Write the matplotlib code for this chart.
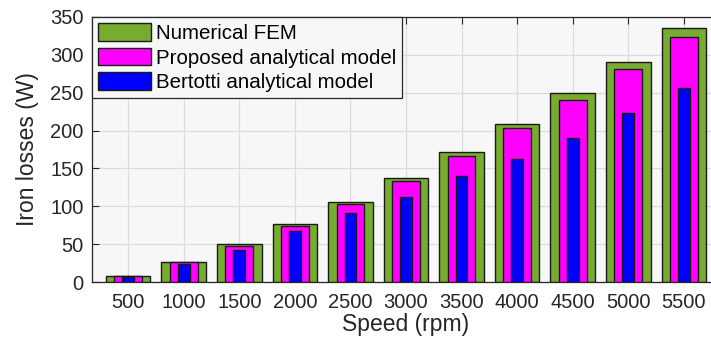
import matplotlib.pyplot as plt
import numpy as np

plt.rcParams['font.family'] = ['Liberation Sans', 'DejaVu Sans']

speeds = ['500', '1000', '1500', '2000', '2500', '3000', '3500', '4000', '4500', '5000', '5500']
fem = [7.5, 26.5, 50, 76.5, 105.5, 137, 172, 209, 249, 290.5, 335]
proposed = [7.3, 26, 48, 73.5, 103.5, 133, 167, 203, 240, 281, 323]
bertotti = [6.2, 23.4, 42, 67, 90.7, 112, 140, 162, 190, 223, 256]

fig = plt.figure(figsize=(7.11, 3.43), dpi=100)
ax = fig.add_axes([92 / 711, 61 / 343, 628 / 711, 265 / 343])
ax.set_facecolor('#f7f7f7')

x = np.arange(len(speeds))
ax.bar(x, fem, width=0.8, color='#77ac30', edgecolor='#1a1a1a', linewidth=1,
       label='Numerical FEM', zorder=2)
ax.bar(x, proposed, width=0.5, color='#ff00ff', edgecolor='#1a1a1a', linewidth=1,
       label='Proposed analytical model', zorder=3)
ax.bar(x, bertotti, width=0.21, color='#0000ff', edgecolor='#1a1a1a', linewidth=1,
       label='Bertotti analytical model', zorder=4)

ax.set_xlim(-0.65, 10.65)
ax.set_ylim(0, 350)
ax.set_xticks(x)
ax.set_xticklabels(speeds)
ax.set_yticks(range(0, 351, 50))
ax.tick_params(direction='in', length=5, width=0.8, colors='#262626',
               labelsize=14.5, top=True, right=True)
ax.tick_params(axis='x', pad=8)
ax.tick_params(axis='y', pad=6)
ax.grid(True, color='#dcdcdc', linewidth=0.9, zorder=0)
ax.set_axisbelow(True)
for s in ax.spines.values():
    s.set_color('#262626')
    s.set_linewidth(0.9)

ax.set_xlabel('Speed (rpm)', fontsize=16.5, color='#262626', labelpad=1)
ax.set_ylabel('Iron losses (W)', fontsize=16.5, color='#262626', labelpad=8)

leg = ax.legend(loc='upper left', fontsize=14.8, frameon=True, fancybox=False,
                borderaxespad=0, handlelength=2.55, handleheight=0.95,
                handletextpad=0.25, labelspacing=0.22, borderpad=0.3)
leg.get_frame().set_edgecolor('#262626')
leg.get_frame().set_facecolor('#f7f7f7')
leg.get_frame().set_alpha(1)
leg.get_frame().set_linewidth(0.9)

fig.savefig('out.png', dpi=100)
